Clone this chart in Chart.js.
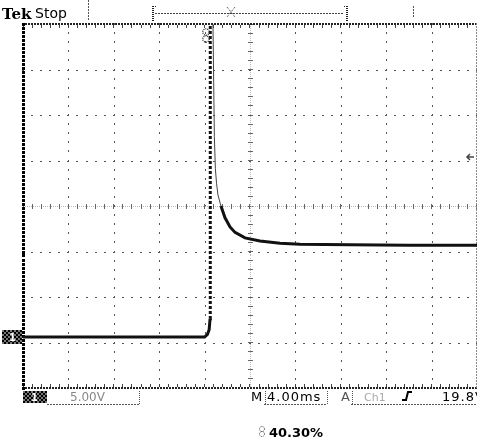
<!DOCTYPE html>
<html>
<head>
<meta charset="utf-8">
<script src="https://cdn.jsdelivr.net/npm/chart.js@4.4.0/dist/chart.umd.min.js"></script>
<style>
	html, body { margin: 0; padding: 0; background: #fff; }
	#wrap { width: 477px; height: 444px; position: relative; }
</style>
</head>
<body>
<div id="wrap"><canvas id="scope"></canvas></div>
<script>
// time in ms from left edge of the screen (4 ms/div, 10 div)
const timeMs = [0, 4, 8, 12, 16.0, 16.25, 16.4, 16.48, 16.5, 16.68, 16.74, 16.8, 16.86, 16.95,
	17.05, 17.18, 17.44, 17.8, 18.24, 18.68, 19.56, 20.88, 22.64, 24.4, 28.8, 34, 40];
// channel 1 in volts (5 V/div)
const ch1Volts = [0, 0, 0, 0, 0, 0.3, 0.8, 2, 40, 40, 34.4, 28, 22, 18.5,
	16.9, 15.6, 14.4, 13.1, 12.1, 11.5, 10.9, 10.55, 10.3, 10.2, 10.15, 10.1, 10.1];

const topLabel = ["Tek", "Stop"];
const chLabel = "5.00V";
const timeLabel = ["M", "4.00ms"];
const trigLabel = ["A", "Ch1", "19.8V"];
const posLabel = "40.30%";

const yMin = -5.6, yMax = 34.4;
const trigLevel = 19.8;

function dots(ctx, x1, y1, x2, y2, step, w, h, color) {
	ctx.fillStyle = color;
	const len = Math.hypot(x2 - x1, y2 - y1);
	const n = Math.floor(len / step);
	for (let i = 0; i <= n; i++) {
		const f = len ? (i * step) / len : 0;
		ctx.fillRect(Math.round(x1 + (x2 - x1) * f - w / 2), Math.round(y1 + (y2 - y1) * f - h / 2), w, h);
	}
}

function checker(ctx, x, y, w, h) {
	for (let i = 0; i < w; i += 2) {
		for (let j = 0; j < h; j += 2) {
			ctx.fillStyle = ((i + j) / 2) % 2 ? "#000" : "#777";
			ctx.fillRect(x + i, y + j, 2, 2);
		}
	}
}

const graticule = {
	id: "graticule",
	beforeDatasetsDraw(chart) {
		const ctx = chart.ctx;
		const xs = chart.scales.x, ys = chart.scales.y;
		const a = chart.chartArea;
		const dx = xs.getPixelForValue(0.8) - xs.getPixelForValue(0);
		const dy = ys.getPixelForValue(0) - ys.getPixelForValue(1);
		ctx.save();
		// vertical division lines
		for (let t = 4; t < 40; t += 4) {
			const x = Math.round(xs.getPixelForValue(t));
			if (t === 20) {
				dots(ctx, x, a.top, x, a.bottom, 2, 1, 1, "#bbb");
				dots(ctx, x, a.top, x, a.bottom, dy, 5, 1, "#666");
			} else {
				dots(ctx, x, a.top, x, a.bottom, dy, 1, 2, "#555");
			}
		}
		// horizontal division lines
		for (let k = 1; k < 8; k++) {
			const v = yMin + 5 * k;
			const y = Math.round(ys.getPixelForValue(v));
			if (k === 4) {
				dots(ctx, a.left, y, a.right, y, 2, 1, 1, "#bbb");
				dots(ctx, a.left, y, a.right, y, dx, 1, 5, "#666");
			} else {
				dots(ctx, a.left, y, a.right, y, dx, 2, 1, "#555");
			}
		}
		// frame
		const top = Math.round(a.top), bot = Math.round(a.bottom);
		const l = Math.round(a.left), r = Math.round(a.right) - 1;
		dots(ctx, l, top, r, top, 3, 2, 2, "#222");
		dots(ctx, l, top + 2, r, top + 2, dx, 1, 3, "#444");
		dots(ctx, l, bot, r, bot, 3, 2, 2, "#222");
		dots(ctx, l, bot - 3, r, bot - 3, dx, 1, 3, "#444");
		dots(ctx, l, top, l, bot, 4, 3, 3, "#000");
		dots(ctx, r, top, r, bot, 3, 1, 2, "#888");
		ctx.restore();
	},
	afterDraw(chart) {
		const ctx = chart.ctx;
		const ys = chart.scales.y;
		ctx.save();
		ctx.textBaseline = "alphabetic";
		// header
		ctx.fillStyle = "#000";
		ctx.font = "bold 15px 'DejaVu Serif'";
		ctx.fillText(topLabel[0], 2, 19);
		ctx.font = "14px 'DejaVu Sans'";
		ctx.fillText(topLabel[1], 35, 18);
		dots(ctx, 88, 1, 88, 20, 3, 1, 2, "#555");
		dots(ctx, 413, 7, 413, 18, 3, 1, 2, "#555");
		// record window bracket
		dots(ctx, 153, 6, 153, 20, 2, 2, 1, "#222");
		dots(ctx, 153, 6, 156, 6, 2, 1, 1, "#222");
		dots(ctx, 347, 6, 347, 20, 2, 2, 1, "#222");
		dots(ctx, 344, 6, 347, 6, 2, 1, 1, "#222");
		dots(ctx, 156, 13, 344, 13, 3, 2, 1, "#444");
		ctx.strokeStyle = "#333";
		ctx.lineWidth = 1;
		ctx.setLineDash([1, 1]);
		ctx.beginPath();
		ctx.moveTo(227, 7); ctx.lineTo(235, 17);
		ctx.moveTo(235, 7); ctx.lineTo(227, 17);
		ctx.stroke();
		// trigger point marker
		ctx.strokeStyle = "#222";
		ctx.lineWidth = 1.3;
		ctx.beginPath();
		ctx.arc(206, 32, 3.2, 0, Math.PI * 2);
		ctx.moveTo(209.2, 39);
		ctx.arc(206, 39, 3.2, 0, Math.PI * 2);
		ctx.stroke();
		ctx.setLineDash([]);
		// ground marker
		const g = Math.round(ys.getPixelForValue(0));
		checker(ctx, 2, g - 7, 20, 14);
		ctx.fillStyle = "#fff";
		ctx.font = "bold 10px 'DejaVu Sans'";
		ctx.fillText("1", 9, g + 4);
		// trigger level arrow
		const ty = Math.round(ys.getPixelForValue(trigLevel));
		ctx.strokeStyle = "#444";
		ctx.lineWidth = 1.5;
		ctx.beginPath();
		ctx.moveTo(474, ty); ctx.lineTo(467, ty);
		ctx.moveTo(470, ty - 3); ctx.lineTo(467, ty); ctx.lineTo(470, ty + 3);
		ctx.stroke();
		// readout line
		checker(ctx, 23, 391, 24, 12);
		ctx.fillStyle = "#fff";
		ctx.fillText("1", 31, 401);
		ctx.fillStyle = "#888";
		ctx.font = "12px 'DejaVu Sans'";
		ctx.fillText(chLabel, 70, 401);
		dots(ctx, 48, 404, 139, 404, 3, 2, 1, "#555");
		dots(ctx, 139, 391, 139, 404, 2, 1, 1, "#555");
		ctx.fillStyle = "#000";
		ctx.font = "13px 'DejaVu Sans'";
		ctx.fillText(timeLabel[0], 251, 401);
		ctx.letterSpacing = "1px";
		ctx.fillText(timeLabel[1], 267, 401);
		ctx.letterSpacing = "0px";
		dots(ctx, 265, 391, 265, 404, 2, 1, 1, "#555");
		dots(ctx, 265, 404, 327, 404, 3, 2, 1, "#555");
		dots(ctx, 327, 391, 327, 404, 2, 1, 1, "#555");
		ctx.fillText(trigLabel[0], 341, 401);
		dots(ctx, 352, 391, 352, 404, 2, 1, 1, "#555");
		dots(ctx, 352, 404, 476, 404, 3, 2, 1, "#555");
		ctx.fillStyle = "#aaa";
		ctx.font = "11px 'DejaVu Sans'";
		ctx.fillText(trigLabel[1], 364, 401);
		// rising edge symbol
		ctx.strokeStyle = "#000";
		ctx.lineWidth = 2;
		ctx.beginPath();
		ctx.moveTo(402, 400); ctx.lineTo(406, 400); ctx.lineTo(408, 392); ctx.lineTo(412, 392);
		ctx.stroke();
		ctx.fillStyle = "#000";
		ctx.font = "13px 'DejaVu Sans'";
		ctx.letterSpacing = "1px";
		ctx.fillText(trigLabel[2], 442, 401);
		ctx.letterSpacing = "0px";
		// trigger position
		ctx.strokeStyle = "#444";
		ctx.lineWidth = 1;
		ctx.setLineDash([1, 1]);
		ctx.beginPath();
		ctx.arc(262, 429, 2.5, 0, Math.PI * 2);
		ctx.moveTo(264.5, 434);
		ctx.arc(262, 434, 2.5, 0, Math.PI * 2);
		ctx.stroke();
		ctx.setLineDash([]);
		ctx.fillStyle = "#000";
		ctx.font = "bold 13px 'DejaVu Sans'";
		ctx.fillText(posLabel, 269, 437);
		ctx.restore();
	},
};

const points = timeMs.map((t, i) => ({ x: t, y: ch1Volts[i] }));
const isFall = (c) => c.p0.parsed.y > c.p1.parsed.y + 0.5 && c.p0.parsed.y > 15;
const isRise = (c) => c.p1.parsed.y > c.p0.parsed.y + 5;

new Chart(document.getElementById("scope"), {
	type: "line",
	data: {
		datasets: [
			{
				data: points,
				borderColor: "#111",
				borderWidth: 3,
				pointRadius: 0,
				tension: 0,
				segment: {
					borderWidth: (c) => (isFall(c) ? 1 : 3),
					borderColor: (c) => (isFall(c) ? "#444" : "#111"),
					borderDash: (c) => (isRise(c) ? [3, 2] : undefined),
				},
			},
		],
	},
	plugins: [graticule],
	options: {
		responsive: true,
		maintainAspectRatio: false,
		animation: false,
		layout: { padding: { left: 23, top: 24, right: 0, bottom: 56 } },
		scales: {
			x: { type: "linear", min: 0, max: 40, display: false },
			y: { type: "linear", min: yMin, max: yMax, display: false },
		},
		plugins: {
			legend: { display: false },
			tooltip: { enabled: false },
		},
	},
});
</script>
</body>
</html>
